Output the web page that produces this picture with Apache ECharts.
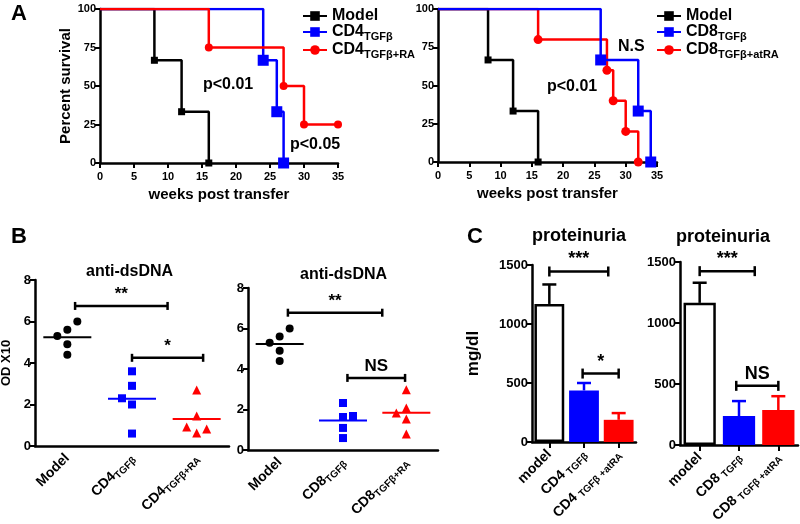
<!DOCTYPE html>
<html>
<head>
<meta charset="utf-8">
<script src="https://cdn.jsdelivr.net/npm/echarts/dist/echarts.min.js"></script>
<style>
  html, body { margin: 0; padding: 0; background: #fff; }
  #main { width: 800px; height: 524px; }
</style>
</head>
<body>
<div id="main"></div>
<script>
// ---- A: survival curves ----
const weeksModel = [0, 8, 12, 16]
const survModel = [100, 66.7, 33.3, 0]
const weeksCD4 = [0, 24, 26, 27]
const survCD4 = [100, 66.7, 33.3, 0]
const weeksCD4RA = [0, 16, 27, 30, 35]
const survCD4RA = [100, 75, 50, 25, 25]
const weeksCD8 = [0, 26, 32, 34]
const survCD8 = [100, 66.7, 33.3, 0]
const weeksCD8RA = [0, 16, 27, 28, 30, 32]
const survCD8RA = [100, 80, 60, 40, 20, 0]

// ---- B: anti-dsDNA dot plots ----
const bLeftCats = ['Model', 'CD4TGFβ', 'CD4TGFβ+RA']
const bRightCats = ['Model', 'CD8TGFβ', 'CD8TGFβ+RA']
const odModel = [6.0, 5.6, 5.3, 4.9, 4.4]
const odCD4 = [3.6, 2.9, 2.3, 2.0, 0.6]
const odCD4RA = [2.7, 1.45, 0.92, 0.82, 0.63]
const odCD8 = [2.32, 1.68, 1.63, 1.09, 0.59]
const odCD8RA = [2.97, 2.08, 1.83, 1.53, 0.79]

// ---- C: proteinuria bars ----
const cLeftCats = ['model', 'CD4TGFβ', 'CD4TGFβ+atRA']
const cRightCats = ['model', 'CD8TGFβ', 'CD8TGFβ+atRA']
const protLeft = [1170, 437, 188]
const protLeftErr = [165, 63, 57]
const protRight = [1165, 237, 286]
const protRightErr = [165, 123, 114]

// significance brackets: [from category, to category, height, label]
const bLeftSig = [[0.12, 1.55, 6.75, '**'], [1.0, 2.1, 4.25, '*']]
const bRightSig = [[0.13, 1.62, 6.78, '**'], [1.07, 1.98, 3.56, 'NS']]
const cLeftSig = [[0, 1.7, 1445, '***'], [0.96, 2.0, 580, '*']]
const cRightSig = [[0, 1.4, 1425, '***'], [0.93, 2.0, 485, 'NS']]

const FONT = 'Liberation Sans'
const BLUE = '#0000ff'
const RED = '#ff0000'

const chart = echarts.init(document.getElementById('main'))

function mean (arr) {
  return arr.reduce((a, b) => a + b, 0) / arr.length
}

function pts (xs, ys) {
  return xs.map((x, i) => i === 0 ? { value: [x, ys[i]], symbol: 'none' } : [x, ys[i]])
}

function survLine (name, xs, ys, color, symbol, size, idx) {
  return {
    name: name,
    type: 'line',
    step: 'end',
    xAxisIndex: idx,
    yAxisIndex: idx,
    symbol: symbol,
    symbolSize: size,
    showAllSymbol: true,
    color: color,
    lineStyle: { width: 2.5, color: color },
    itemStyle: { color: color, opacity: 1 },
    data: pts(xs, ys)
  }
}

// jitter offsets (px) of the dots
const jitModel = [10, 0, -10, 0, 0]
function dots (vals, cat, jit, symbol, color, idx) {
  return {
    type: 'scatter',
    xAxisIndex: idx,
    yAxisIndex: idx,
    symbol: symbol,
    symbolSize: symbol === 'triangle' ? 9 : 8,
    itemStyle: { color: color, opacity: 1 },
    z: 4,
    data: vals.map((v, i) => ({ value: [cat, v], symbolOffset: [jit[i], 0] }))
  }
}
function meanLine (vals, cat, color, idx) {
  return {
    type: 'scatter',
    xAxisIndex: idx,
    yAxisIndex: idx,
    symbol: 'rect',
    symbolSize: [48, 2],
    itemStyle: { color: color, opacity: 1 },
    z: 3,
    data: [[cat, mean(vals)]]
  }
}

function brackets (list, idx, capH, fontSize) {
  return {
    type: 'custom',
    xAxisIndex: idx,
    yAxisIndex: idx,
    z: 6,
    data: list.map(b => [0, b[2]]),
    renderItem: function (params, api) {
      const b = list[params.dataIndex]
      const p0 = api.coord([0, b[2]])
      const band = api.coord([1, b[2]])[0] - p0[0]
      const x1 = p0[0] + b[0] * band
      const x2 = p0[0] + b[1] * band
      const y = p0[1]
      const st = { stroke: '#000', lineWidth: 2.5 }
      return {
        type: 'group',
        children: [
          { type: 'line', shape: { x1: x1, y1: y, x2: x2, y2: y }, style: st },
          { type: 'line', shape: { x1: x1, y1: y - capH, x2: x1, y2: y + capH }, style: st },
          { type: 'line', shape: { x1: x2, y1: y - capH, x2: x2, y2: y + capH }, style: st },
          {
            type: 'text',
            style: {
              x: (x1 + x2) / 2,
              y: y - 3,
              text: b[3],
              fill: '#000',
              font: 'bold ' + fontSize + 'px ' + FONT,
              textAlign: 'center',
              textVerticalAlign: 'bottom'
            }
          }
        ]
      }
    }
  }
}

function errorBars (vals, errs, colors, idx) {
  return {
    type: 'custom',
    xAxisIndex: idx,
    yAxisIndex: idx,
    z: 5,
    data: vals.map((v, i) => [i, v, v + errs[i]]),
    renderItem: function (params, api) {
      const p0 = api.coord([api.value(0), api.value(1)])
      const p1 = api.coord([api.value(0), api.value(2)])
      const st = { stroke: colors[params.dataIndex], lineWidth: 2.5 }
      return {
        type: 'group',
        children: [
          { type: 'line', shape: { x1: p0[0], y1: p0[1], x2: p1[0], y2: p1[1] }, style: st },
          { type: 'line', shape: { x1: p1[0] - 7, y1: p1[1], x2: p1[0] + 7, y2: p1[1] }, style: st }
        ]
      }
    }
  }
}

const axisLine = { lineStyle: { color: '#000', width: 2.5 } }
const axisTick = { lineStyle: { color: '#000', width: 2 }, length: 5 }
function lbl (size) {
  return { color: '#000', fontFamily: FONT, fontWeight: 'bold', fontSize: size }
}

function survX (idx) {
  return {
    type: 'value', gridIndex: idx, min: 0, max: 35, interval: 5,
    name: 'weeks post transfer', nameLocation: 'middle', nameGap: 24,
    nameTextStyle: lbl(15),
    axisLine: axisLine, axisTick: axisTick, axisLabel: lbl(11),
    splitLine: { show: false }
  }
}
function survY (idx, name) {
  return {
    type: 'value', gridIndex: idx, min: 0, max: 100, interval: 25,
    name: name, nameLocation: 'middle', nameGap: 26,
    nameTextStyle: lbl(15),
    axisLine: { show: true, lineStyle: { color: '#000', width: 2.5 } },
    axisTick: { show: true, lineStyle: { color: '#000', width: 2 }, length: 5 },
    axisLabel: Object.assign(lbl(11), { margin: 4 }),
    splitLine: { show: false }
  }
}

const richLabel = {
  b: { color: '#000', fontFamily: FONT, fontWeight: 'bold', fontSize: 14 },
  s: { color: '#000', fontFamily: FONT, fontWeight: 'bold', fontSize: 10, padding: [8, 0, 0, 0] }
}
function subFmt (v) {
  const m = v.match(/^(CD\d)(.+)$/)
  return m ? '{b|' + m[1] + '}{s|' + m[2] + '}' : '{b|' + v + '}'
}
function spacedFmt (v) {
  const m = v.match(/^(CD\d)(TGFβ)(.*)$/)
  if (!m) return '{b|' + v + '}'
  return '{b|' + m[1] + '} {s|' + m[2] + (m[3] ? ' ' + m[3] : '') + '}'
}

function catX (idx, cats, fmt, ticks) {
  return {
    type: 'category', gridIndex: idx, data: cats,
    axisLine: axisLine,
    axisTick: { show: ticks, alignWithLabel: true, lineStyle: { color: '#000', width: 2 }, length: 6 },
    axisLabel: { rotate: 45, margin: 10, formatter: fmt, rich: richLabel, interval: 0 },
    splitLine: { show: false }
  }
}
function valY (idx, max, interval, name, gap, nameSize, labSize) {
  return {
    type: 'value', gridIndex: idx, min: 0, max: max, interval: interval,
    name: name, nameLocation: 'middle', nameGap: gap,
    nameTextStyle: lbl(nameSize),
    axisLine: { show: true, lineStyle: { color: '#000', width: 2.5 } },
    axisTick: { show: true, lineStyle: { color: '#000', width: 2 }, length: 5 },
    axisLabel: Object.assign(lbl(labSize), { margin: 4, formatter: v => String(v) }),
    splitLine: { show: false }
  }
}

const legendText = {
  color: '#000', fontFamily: FONT, fontWeight: 'bold', fontSize: 16,
  rich: {
    b: { color: '#000', fontFamily: FONT, fontWeight: 'bold', fontSize: 16 },
    s: { color: '#000', fontFamily: FONT, fontWeight: 'bold', fontSize: 11, padding: [9, 0, 0, 0] }
  }
}

function txt (x, y, text, size, align) {
  return {
    type: 'text', left: x, top: y,
    style: { text: text, fill: '#000', font: 'bold ' + size + 'px ' + FONT, textAlign: align || 'left', textVerticalAlign: 'middle' }
  }
}

const option = {
  backgroundColor: '#fff',
  animation: false,
  grid: [
    { left: 100, top: 9, width: 238, height: 154, outerBoundsMode: 'none' },
    { left: 438, top: 9, width: 219, height: 153, outerBoundsMode: 'none' },
    { left: 35, top: 280, width: 194, height: 166, outerBoundsMode: 'none' },
    { left: 248, top: 288, width: 190, height: 162, outerBoundsMode: 'none' },
    { left: 532, top: 265, width: 104, height: 177, outerBoundsMode: 'none' },
    { left: 680, top: 262, width: 118, height: 183, outerBoundsMode: 'none' }
  ],
  legend: [
    {
      left: 297, top: 3, orient: 'vertical', itemGap: 0, itemWidth: 24, itemHeight: 12,
      data: ['Model', 'CD4TGFβ', 'CD4TGFβ+RA'],
      formatter: subFmt, textStyle: legendText
    },
    {
      left: 651, top: 3, orient: 'vertical', itemGap: 0, itemWidth: 24, itemHeight: 12,
      data: ['Model', 'CD8TGFβ', 'CD8TGFβ+atRA'],
      formatter: subFmt, textStyle: legendText
    }
  ],
  xAxis: [
    survX(0),
    survX(1),
    catX(2, bLeftCats, subFmt, false),
    catX(3, bRightCats, subFmt, false),
    catX(4, cLeftCats, spacedFmt, true),
    catX(5, cRightCats, spacedFmt, true)
  ],
  yAxis: [
    survY(0, 'Percent survival'),
    survY(1, ''),
    valY(2, 8, 2, 'OD X10', 22, 13, 13),
    valY(3, 8, 2, '', 22, 13, 13),
    valY(4, 1500, 500, 'mg/dl', 50, 17, 13),
    valY(5, 1500, 500, '', 50, 17, 13)
  ],
  graphic: [
    txt(11, 3, 'A', 22),
    txt(11, 226, 'B', 22),
    txt(467, 226, 'C', 22),
    txt(203, 77, 'p<0.01', 16),
    txt(290, 137, 'p<0.05', 16),
    txt(547, 79, 'p<0.01', 16),
    txt(618, 39, 'N.S', 16),
    txt(86, 264, 'anti-dsDNA', 16),
    txt(300, 267, 'anti-dsDNA', 16),
    txt(532, 227, 'proteinuria', 18),
    txt(676, 228, 'proteinuria', 18)
  ],
  series: [
    survLine('Model', weeksModel, survModel, '#000', 'rect', 7, 0),
    survLine('CD4TGFβ', weeksCD4, survCD4, BLUE, 'rect', 11, 0),
    survLine('CD4TGFβ+RA', weeksCD4RA, survCD4RA, RED, 'circle', 8, 0),
    survLine('Model', weeksModel, survModel, '#000', 'rect', 7, 1),
    survLine('CD8TGFβ+atRA', weeksCD8RA, survCD8RA, RED, 'circle', 9, 1),
    survLine('CD8TGFβ', weeksCD8, survCD8, BLUE, 'rect', 11, 1),

    dots(odModel, 0, jitModel, 'circle', '#000', 2),
    dots(odCD4, 1, [0, 0, -10, 0, 0], 'rect', BLUE, 2),
    dots(odCD4RA, 2, [0, 0, -10, 10, 0], 'triangle', RED, 2),
    meanLine(odModel, 0, '#000', 2),
    meanLine(odCD4, 1, BLUE, 2),
    meanLine(odCD4RA, 2, RED, 2),
    brackets(bLeftSig, 2, 4, 17),

    dots(odModel, 0, jitModel, 'circle', '#000', 3),
    dots(odCD8, 1, [0, 10, 0, 0, 0], 'rect', BLUE, 3),
    dots(odCD8RA, 2, [0, 0, -10, 0, 0], 'triangle', RED, 3),
    meanLine(odModel, 0, '#000', 3),
    meanLine(odCD8, 1, BLUE, 3),
    meanLine(odCD8RA, 2, RED, 3),
    brackets(bRightSig, 3, 4, 17),

    {
      type: 'bar', xAxisIndex: 4, yAxisIndex: 4, barCategoryGap: '14%',
      data: [
        { value: protLeft[0], itemStyle: { color: '#fff', borderColor: '#000', borderWidth: 2.5 } },
        { value: protLeft[1], itemStyle: { color: BLUE } },
        { value: protLeft[2], itemStyle: { color: RED } }
      ]
    },
    errorBars(protLeft, protLeftErr, ['#000', BLUE, RED], 4),
    brackets(cLeftSig, 4, 5, 18),

    {
      type: 'bar', xAxisIndex: 5, yAxisIndex: 5, barCategoryGap: '18%',
      data: [
        { value: protRight[0], itemStyle: { color: '#fff', borderColor: '#000', borderWidth: 2.5 } },
        { value: protRight[1], itemStyle: { color: BLUE } },
        { value: protRight[2], itemStyle: { color: RED } }
      ]
    },
    errorBars(protRight, protRightErr, ['#000', BLUE, RED], 5),
    brackets(cRightSig, 5, 5, 18)
  ]
}

chart.setOption(option)
</script>
</body>
</html>
